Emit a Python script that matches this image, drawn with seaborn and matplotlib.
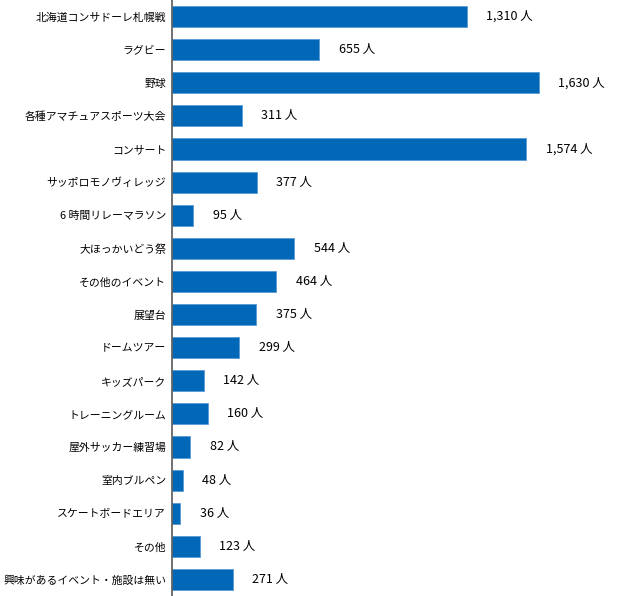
import matplotlib
matplotlib.use("Agg")
import matplotlib.pyplot as plt
import seaborn as sns
import pandas as pd

# ---------- data ----------
categories = [
    "北海道コンサドーレ札幌戦", "ラグビー", "野球", "各種アマチュアスポーツ大会",
    "コンサート", "サッポロモノヴィレッジ", "6 時間リレーマラソン", "大ほっかいどう祭",
    "その他のイベント", "展望台", "ドームツアー", "キッズパーク",
    "トレーニングルーム", "屋外サッカー練習場", "室内ブルペン", "スケートボードエリア",
    "その他", "興味があるイベント・施設は無い",
]
counts = [1310, 655, 1630, 311, 1574, 377, 95, 544, 464, 375, 299, 142,
          160, 82, 48, 36, 123, 271]
unit = "人"

BAR_COLOR = "#0068B6"

df = pd.DataFrame({"category": categories, "count": counts})

sns.set_theme(style="white")
plt.rcParams["font.family"] = ["Noto Sans CJK JP", "DejaVu Sans"]

fig = plt.figure(figsize=(6.22, 5.96), dpi=100)
ax = fig.add_axes([172 / 622, 0.0, 450 / 622, 1.0])

sns.barplot(data=df, x="count", y="category", orient="h", color=BAR_COLOR,
            saturation=1, width=0.64, ax=ax, edgecolor="#5B9BD5", linewidth=0.6)

ax.set_xlim(0, 2000)
ax.set_ylim(len(categories) - 0.5, -0.5)
ax.set_xlabel("")
ax.set_ylabel("")
ax.set_xticks([])

for s in ["top", "right", "bottom"]:
    ax.spines[s].set_visible(False)
ax.spines["left"].set_color("#595959")
ax.spines["left"].set_linewidth(1.2)

ax.tick_params(axis="y", length=0, pad=4.2, labelsize=7.8, colors="black")

ax.bar_label(ax.containers[0], labels=[f"{v:,} {unit}" for v in counts],
             padding=14, fontsize=9, color="black")

fig.savefig("out.png", dpi=100)
